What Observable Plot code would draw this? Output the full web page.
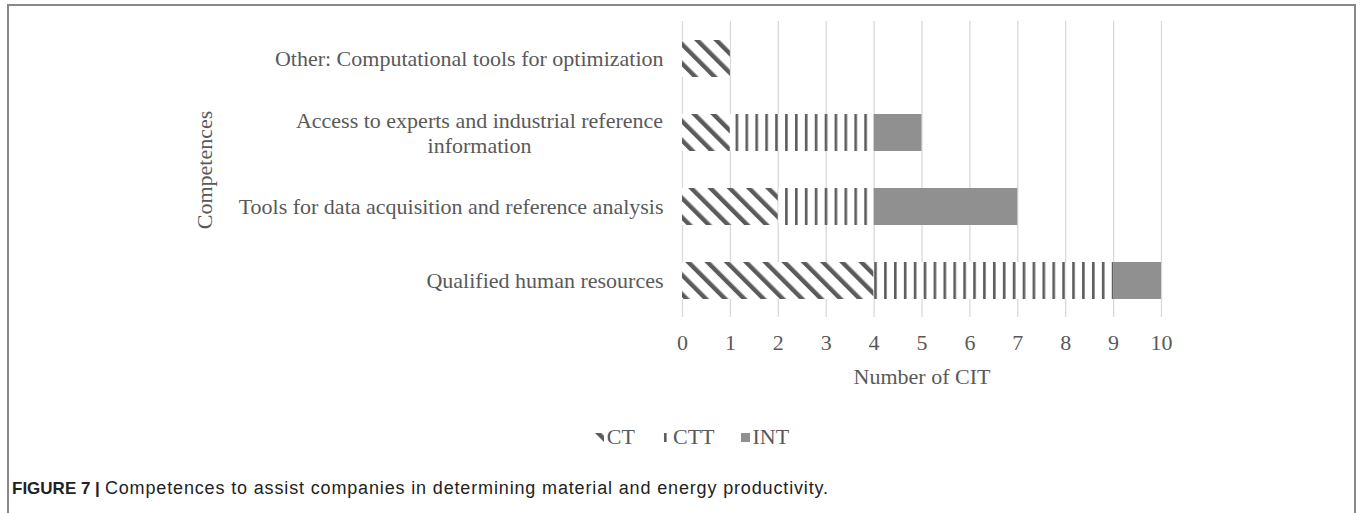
<!DOCTYPE html>
<html>
<head>
<meta charset="utf-8">
<script src="https://cdn.jsdelivr.net/npm/d3@7"></script>
<script src="https://cdn.jsdelivr.net/npm/@observablehq/plot@0.6"></script>
<style>
  html, body { margin: 0; padding: 0; background: #fff; }
  #page { position: relative; width: 1360px; height: 513px; overflow: hidden; background: #fff; }
  #frame { position: absolute; left: 7px; top: 4px; width: 1349px; height: 560px; border: 2px solid #888; border-bottom: none; box-sizing: border-box; }
  #chart { position: absolute; left: 0; top: 0; }
  #ytitle { position: absolute; left: 205px; top: 170px; transform: translate(-50%, -50%) rotate(-90deg); font-family: 'Liberation Serif', serif; font-size: 22px; color: #595959; white-space: nowrap; }
  #legend { position: absolute; top: 424px; left: 12px; width: 1360px; display: flex; justify-content: center; gap: 26px; font-family: 'Liberation Serif', serif; font-size: 22px; color: #595959; }
  #legend .item { display: flex; align-items: center; gap: 3px; }
  #caption { position: absolute; left: 12px; top: 478px; font-family: 'Liberation Sans', Arial, sans-serif; font-size: 18px; color: #222; white-space: nowrap; }
  #caption b { font-size: 17px; letter-spacing: 0; }
  #caption span { letter-spacing: 0.85px; }
</style>
</head>
<body>
<div id="page">
  <div id="frame"></div>
  <div id="chart"></div>
  <div id="ytitle"></div>
  <div id="legend"></div>
  <div id="caption"><b>FIGURE 7 |</b> <span>Competences to assist companies in determining material and energy productivity.</span></div>
</div>
<script>
// ---- data ----
const categories = [
  "Other: Computational tools for optimization",
  "Access to experts and industrial reference information",
  "Tools for data acquisition and reference analysis",
  "Qualified human resources"
];
const categoryLines = [
  ["Other: Computational tools for optimization"],
  ["Access to experts and industrial reference", "information"],
  ["Tools for data acquisition and reference analysis"],
  ["Qualified human resources"]
];
const series = ["CT", "CTT", "INT"];
const ctValues = [1, 1, 2, 4];
const cttValues = [0, 3, 2, 5];
const intValues = [0, 1, 3, 1];
const xTicks = [0, 1, 2, 3, 4, 5, 6, 7, 8, 9, 10];
const xLabel = "Number of CIT";
const yLabel = "Competences";

// ---- build tables ----
const valuesBySeries = [ctValues, cttValues, intValues];
const rows = [];
series.forEach((s, si) => categories.forEach((c, ci) => rows.push({series: s, category: c, value: valuesBySeries[si][ci]})));
const labelRows = [];
categories.forEach((c, ci) => categoryLines[ci].forEach((t, li) => labelRows.push({category: c, text: t, line: li, n: categoryLines[ci].length})));

const textColor = "#595959";
const chart = Plot.plot({
  width: 1360,
  height: 400,
  marginLeft: 682,
  marginRight: 199,
  marginTop: 21,
  marginBottom: 83,
  style: {fontFamily: "'Liberation Serif', serif", fontSize: "22px", color: textColor, background: "transparent"},
  x: {domain: [0, 10], ticks: xTicks, tickSize: 0, tickPadding: 17, label: null, tickFormat: d => String(d)},
  y: {domain: categories, paddingInner: 0.5, paddingOuter: 0.25, axis: null},
  color: {domain: series, range: ["url(#pat-ct)", "url(#pat-ctt)", "#909090"]},
  marks: [
    Plot.ruleX(xTicks, {x: d => d, stroke: "#d9d9d9", strokeWidth: 1.3}),
    Plot.barX(rows, {x: "value", y: "category", fill: "series"}),
    Plot.text(labelRows.filter(d => d.n === 1), {y: "category", text: "text", frameAnchor: "left", dx: -19, textAnchor: "end", fill: textColor}),
    Plot.text(labelRows.filter(d => d.n === 2 && d.line === 0), {y: "category", text: "text", frameAnchor: "left", dx: -203, dy: -12.5, textAnchor: "middle", fill: textColor}),
    Plot.text(labelRows.filter(d => d.n === 2 && d.line === 1), {y: "category", text: "text", frameAnchor: "left", dx: -203, dy: 12.5, textAnchor: "middle", fill: textColor}),
    Plot.text([xLabel], {text: d => d, frameAnchor: "bottom", dy: 66, fill: textColor})
  ]
});

// patterns
const defs = d3.select(chart).insert("defs", ":first-child");
const stripe = "#5b5b5b";
const pct = defs.append("pattern").attr("id", "pat-ct").attr("patternUnits", "userSpaceOnUse")
  .attr("width", 13.6).attr("height", 13.6).attr("patternTransform", "rotate(-45)");
pct.append("rect").attr("width", 13.6).attr("height", 13.6).attr("fill", "#fff");
pct.append("rect").attr("x", 0).attr("width", 4.4).attr("height", 13.6).attr("fill", stripe);
const pctt = defs.append("pattern").attr("id", "pat-ctt").attr("patternUnits", "userSpaceOnUse")
  .attr("width", 9.9).attr("height", 10);
pctt.append("rect").attr("width", 9.9).attr("height", 10).attr("fill", "#fff");
pctt.append("rect").attr("x", 3).attr("width", 2.6).attr("height", 10).attr("fill", stripe);

document.getElementById("chart").appendChild(chart);
document.getElementById("ytitle").textContent = yLabel;

// legend
const legend = d3.select("#legend");
const swatchFill = {CT: "url(#pat-ct)", CTT: "url(#pat-ctt)", INT: "#909090"};
series.forEach(s => {
  const item = legend.append("div").attr("class", "item");
  const sv = item.append("svg").attr("width", 9).attr("height", 9);
  sv.append("rect").attr("width", 9).attr("height", 9).attr("fill", swatchFill[s]);
  item.append("span").text(s);
});
</script>
</body>
</html>
